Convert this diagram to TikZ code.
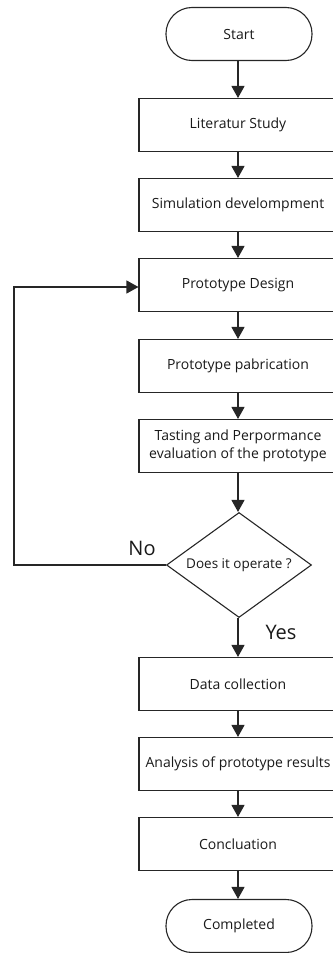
\documentclass[tikz,border=0pt]{standalone}
\usepackage{fontspec}
\setmainfont{Open Sans}
\usetikzlibrary{shapes.geometric,arrows.meta}
\begin{document}
\begin{tikzpicture}[x=1pt,y=1pt,
  line width=1.1pt,
  every node/.style={font=\fontsize{14}{18.5}\selectfont, text=black!90},
  procbox/.style={draw=black!85, rectangle, minimum width=198pt, minimum height=53pt, align=center, inner sep=2pt},
  termbox/.style={draw=black!85, rectangle, rounded corners=26pt, minimum width=146pt, minimum height=53pt},
  decbox/.style={draw=black!85, diamond, aspect=1.4, inner sep=0pt, minimum width=145pt, minimum height=105pt, font=\fontsize{13.5}{16}\selectfont},
  flow/.style={draw=black!85, -{Triangle[length=12pt,width=13pt]}},
  lbl/.style={font=\fontsize{20}{24}\selectfont}
]
\useasboundingbox (0,0) rectangle (332,-953);
\node[termbox] (start) at (239,-34) {Start};
\node[procbox] (lit) at (238,-125) {Literatur Study};
\node[procbox] (sim) at (238,-205) {Simulation develompment};
\node[procbox] (pd) at (238,-285) {Prototype Design};
\node[procbox] (pp) at (238,-366) {Prototype pabrication};
\node[procbox] (test) at (238,-446) {Tasting and Perpormance\\evaluation of the prototype};
\node[decbox] (dec) at (239,-565) {Does it operate ?};
\node[procbox] (dc) at (238,-684) {Data collection};
\node[procbox] (an) at (238,-764) {Analysis of prototype results};
\node[procbox] (con) at (238,-844) {Concluation};
\node[termbox] (done) at (239,-926) {Completed};
\coordinate (c1) at (14,-565);
\coordinate (c2) at (14,-287);
\draw[flow] (start.south -| lit.north) -- (lit.north);
\draw[flow] (lit) -- (sim);
\draw[flow] (sim) -- (pd);
\draw[flow] (pd) -- (pp);
\draw[flow] (pp) -- (test);
\draw[flow] (test.south) -- (test.south |- dec.north);
\draw[flow] (dec.south -| dc.north) -- (dc.north);
\draw[flow] (dc) -- (an);
\draw[flow] (an) -- (con);
\draw[flow] (con.south) -- (con.south |- done.north);
\draw[flow] (dec.west) -- (c1) -- (c2) -- (c2 -| pd.west);
\node[lbl] (no) at (142,-548) {No};
\node[lbl] (yes) at (281,-632) {Yes};
\end{tikzpicture}
\end{document}
